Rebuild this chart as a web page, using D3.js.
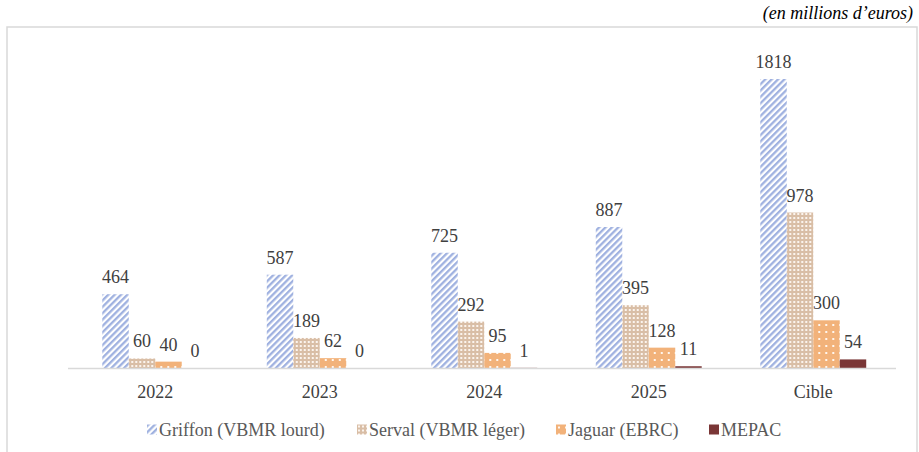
<!DOCTYPE html>
<html><head><meta charset="utf-8">
<script src="https://cdn.jsdelivr.net/npm/d3@7/dist/d3.min.js"></script>
<style>body{margin:0;background:#fff;}</style>
</head><body>
<script>
const categories = ["2022","2023","2024","2025","Cible"];
const seriesNames = ["Griffon (VBMR lourd)","Serval (VBMR léger)","Jaguar (EBRC)","MEPAC"];
const griffon = [464,587,725,887,1818];
const serval = [60,189,292,395,978];
const jaguar = [40,62,95,128,300];
const mepac = [0,0,1,11,54];
const seriesValues = [griffon, serval, jaguar, mepac];
const unitNote = "(en millions d’euros)";

const FONT = "Liberation Serif";
const W = 919, H = 452;
const svg = d3.select("body").append("svg").attr("width", W).attr("height", H);
const defs = svg.append("defs");

// Griffon: blue diagonal stripes
const p0 = defs.append("pattern").attr("id","pat0").attr("patternUnits","userSpaceOnUse")
  .attr("width",4.5).attr("height",4.5).attr("patternTransform","rotate(45)");
p0.append("rect").attr("width",4.5).attr("height",4.5).attr("fill","#fff");
p0.append("rect").attr("width",2.3).attr("height",4.5).attr("fill","#9fb1e0");
// Serval: small brown grid
const p1 = defs.append("pattern").attr("id","pat1").attr("patternUnits","userSpaceOnUse").attr("width",4).attr("height",4);
p1.append("rect").attr("width",4).attr("height",4).attr("fill","#d9bea6");
p1.append("rect").attr("x",1).attr("y",1).attr("width",2).attr("height",2).attr("fill","#fbf4ee");
// Jaguar: orange with white dots
const p2 = defs.append("pattern").attr("id","pat2").attr("patternUnits","userSpaceOnUse").attr("width",7).attr("height",7);
p2.append("rect").attr("width",7).attr("height",7).attr("fill","#f2b27a");
p2.append("rect").attr("x",2).attr("y",2).attr("width",2).attr("height",2).attr("fill","#fff6ee");
const fills = ["url(#pat0)","url(#pat1)","url(#pat2)","#7a3636"];

// outer frame
svg.append("rect").attr("x",7).attr("y",27).attr("width",910).attr("height",440)
  .attr("fill","none").attr("stroke","#d9d9d9").attr("stroke-width",1.5);

svg.append("text").attr("x",913).attr("y",19).attr("text-anchor","end")
  .attr("font-family",FONT).attr("font-style","italic").attr("font-size",18).attr("fill","#000").text(unitNote);

const x0 = d3.scaleBand().domain(categories).range([73,895.5]).paddingInner(0.356).paddingOuter(0.178);
const x1 = d3.scaleBand().domain(d3.range(seriesNames.length)).range([0, x0.bandwidth()]);
const y = d3.scaleLinear().domain([0,1818]).range([368,79]);

const groups = svg.append("g").selectAll("g").data(categories).join("g")
  .attr("transform", d => `translate(${x0(d)},0)`);

groups.each(function(cat, ci){
  const g = d3.select(this);
  seriesValues.forEach((vals, si) => {
    const v = vals[ci];
    g.append("rect").attr("x", x1(si)).attr("width", x1.bandwidth())
      .attr("y", y(v)).attr("height", y(0)-y(v)).attr("fill", fills[si]);
    g.append("text").attr("x", x1(si)+x1.bandwidth()/2).attr("y", y(v)-11)
      .attr("text-anchor","middle").attr("font-family",FONT).attr("font-size",18).attr("fill","#404040").text(v);
  });
});

// baseline
svg.append("line").attr("x1",68).attr("x2",896).attr("y1",368.5).attr("y2",368.5)
  .attr("stroke","#d9d9d9").attr("stroke-width",1.5);

// category axis labels
const xAxis = d3.axisBottom(x0).tickSize(0).tickPadding(0);
const ax = svg.append("g").attr("transform","translate(0,368)").call(xAxis);
ax.attr("font-family",FONT).attr("font-size",18);
ax.select(".domain").remove();
ax.selectAll("text").attr("font-family",FONT)
  .attr("font-size",18).attr("fill","#404040").attr("dy","0").attr("y",30);

// legend
const legX = [147, 357, 556, 709];
const leg = svg.append("g");
seriesNames.forEach((n, i) => {
  const lg = leg.append("g").attr("transform", `translate(${legX[i]},424.5)`);
  lg.append("rect").attr("x",0).attr("y",0).attr("width",10).attr("height",10).attr("fill",fills[i]);
  lg.append("text").attr("x",12).attr("y",11).attr("font-family",FONT).attr("font-size",18).attr("fill","#595959").text(n);
});
</script>
</body></html>
